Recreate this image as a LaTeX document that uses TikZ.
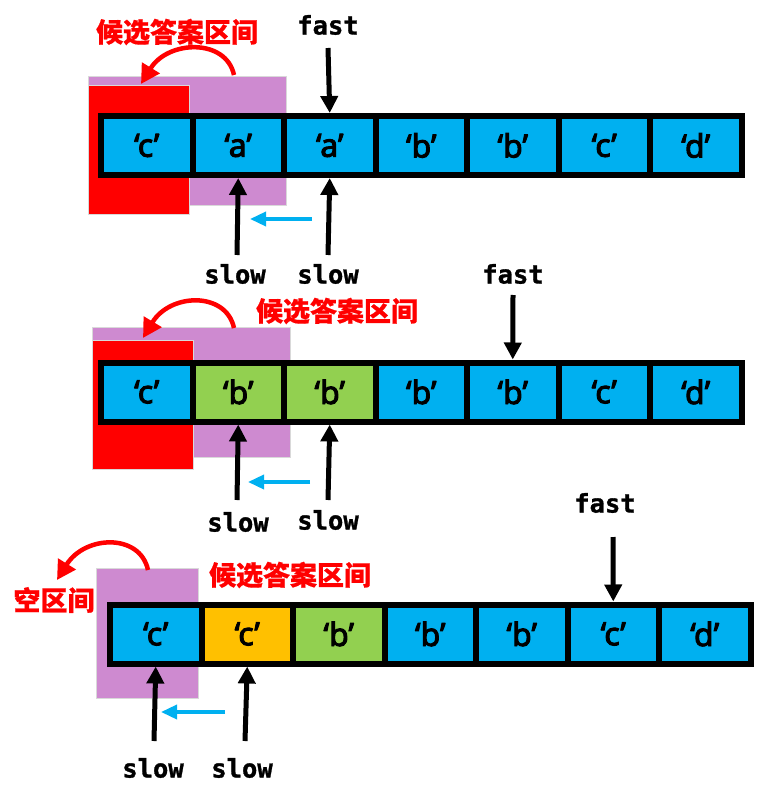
\documentclass[tikz,border=0pt]{standalone}
\usepackage{fontspec}
\setmainfont{Noto Sans}
\newfontfamily\cellfont{Noto Sans}[FakeBold=3]
\newfontfamily\cjk{Noto Sans CJK SC}[BoldFeatures={FakeBold=0.6}]
\newfontfamily\monof{DejaVu Sans Mono}[BoldFeatures={FakeBold=1.2}]
\usetikzlibrary{arrows.meta}
\definecolor{cblue}{RGB}{0,176,240}
\definecolor{cgreen}{RGB}{146,208,80}
\definecolor{corange}{RGB}{255,192,0}
\definecolor{cpurple}{RGB}{206,138,208}
\definecolor{cred}{RGB}{255,0,0}
\begin{document}
\begin{tikzpicture}[x=1pt,y=-1pt,
  cell/.style={draw=black,line width=6pt,minimum width=91.5pt,minimum height=59pt,inner sep=0pt,
    font=\cellfont\fontsize{32}{34}\selectfont},
  ptr/.style={font=\monof\fontsize{25.5}{27}\selectfont\bfseries,inner sep=1pt},
  redlbl/.style={font=\cjk\fontsize{27}{29}\selectfont\bfseries,text=cred,inner sep=1pt},
  parr/.style={line width=5pt,-{Triangle[width=17pt,length=17pt]}},
  rarr/.style={line width=4.5pt,draw=cred,-{Triangle[width=20pt,length=19pt]}},
  barr/.style={line width=3.5pt,draw=cblue,-{Triangle[width=14pt,length=16pt]}},
  purplebox/.style={fill=cpurple,draw=black!15,line width=0.6pt},
  redbox/.style={fill=cred,draw=black!15,line width=0.6pt}]
\useasboundingbox (0,0) rectangle (759,799);

% ---------- row 1 ----------
\fill[purplebox] (88,76) rectangle (286,205);
\fill[redbox] (88,85) rectangle (189,214);
\foreach \t [count=\i from 0] in {c,a,a,b,b,c,d}
  \node[cell,fill=cblue] (a\i) at (146.75+91.5*\i,145.5) {‘\t’};
\node[redlbl] (l1) at (177,32) {候选答案区间};
\node[ptr] (f1) at (328,25) {fast};
\node[ptr] (s1a) at (235,274) {slow};
\node[ptr] (s1b) at (328,274) {slow};
\coordinate (fs1) at (328,48);
\coordinate (ss1a) at (237,255);
\coordinate (ss1b) at (328,255);
\draw[parr] (fs1) -- (a2.north);
\draw[parr] (ss1a) -- (a1.south);
\draw[parr] (ss1b) -- (a2.south);
\coordinate (bs1) at (312,219);
\coordinate (be1) at (250,219);
\draw[barr] (bs1) -- (be1);
\coordinate (rs1) at (234,75);
\coordinate (re1) at (141,84);
\draw[rarr] (rs1) .. controls (226,38) and (168,40) .. (re1);

% ---------- row 2 ----------
\fill[purplebox] (92,327) rectangle (290,457);
\fill[redbox] (92,340) rectangle (193,469);
\foreach \t/\c [count=\i from 0] in {c/cblue,b/cgreen,b/cgreen,b/cblue,b/cblue,c/cblue,d/cblue}
  \node[cell,fill=\c] (b\i) at (146.75+91.5*\i,392) {‘\t’};
\node[redlbl] (l2) at (337,311) {候选答案区间};
\node[ptr] (f2) at (513,274) {fast};
\node[ptr] (s2a) at (238,522) {slow};
\node[ptr] (s2b) at (328,520) {slow};
\coordinate (fs2) at (513,295);
\coordinate (ss2a) at (237,500);
\coordinate (ss2b) at (328,500);
\draw[parr] (fs2) -- (b4.north);
\draw[parr] (ss2a) -- (b1.south);
\draw[parr] (ss2b) -- (b2.south);
\coordinate (bs2) at (310,482);
\coordinate (be2) at (248,482);
\draw[barr] (bs2) -- (be2);
\coordinate (rs2) at (234,328);
\coordinate (re2) at (143,338);
\draw[rarr] (rs2) .. controls (226,291) and (170,293) .. (re2);

% ---------- row 3 ----------
\fill[purplebox] (96,568) rectangle (198,698);
\foreach \t/\c [count=\i from 0] in {c/cblue,c/corange,b/cgreen,b/cblue,b/cblue,c/cblue,d/cblue}
  \node[cell,fill=\c] (c\i) at (155.75+91.5*\i,634) {‘\t’};
\node[redlbl] (l3) at (290,575) {候选答案区间};
\node[redlbl] (l4) at (54,600) {空区间};
\node[ptr] (f3) at (605,503) {fast};
\node[ptr] (s3a) at (153,768) {slow};
\node[ptr] (s3b) at (242,768) {slow};
\coordinate (fs3) at (613,537);
\coordinate (ss3a) at (154,741);
\coordinate (ss3b) at (245,741);
\draw[parr] (fs3) -- (c5.north);
\draw[parr] (ss3a) -- (c0.south);
\draw[parr] (ss3b) -- (c1.south);
\coordinate (bs3) at (225,712);
\coordinate (be3) at (161,712);
\draw[barr] (bs3) -- (be3);
\coordinate (rs3) at (148,570);
\coordinate (re3) at (57,580);
\draw[rarr] (rs3) .. controls (140,533) and (85,535) .. (re3);
\end{tikzpicture}
\end{document}
